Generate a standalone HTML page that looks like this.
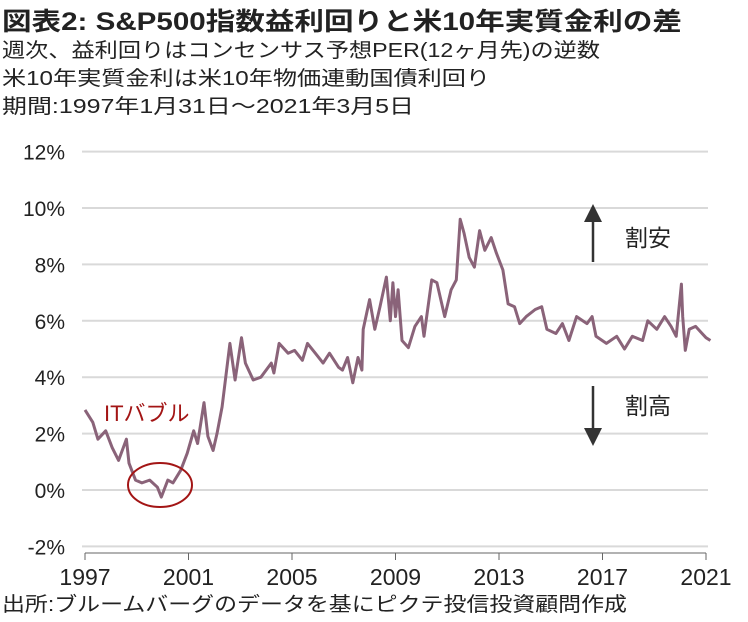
<!DOCTYPE html>
<html><head><meta charset="utf-8"><style>
body{margin:0;background:#fff;}
svg{display:block;}
text{font-family:"Liberation Sans","Noto Sans CJK JP",sans-serif;fill:#222;}
</style></head><body>
<svg id="chart" width="748" height="622" viewBox="0 0 748 622">
<text x="2" y="30" font-size="25" font-weight="bold" textLength="680" lengthAdjust="spacingAndGlyphs">図表2: S&amp;P500指数益利回りと米10年実質金利の差</text>
<text x="2" y="57" font-size="20" textLength="598" lengthAdjust="spacingAndGlyphs">週次、益利回りはコンセンサス予想PER(12ヶ月先)の逆数</text>
<text x="2" y="85" font-size="20" textLength="488" lengthAdjust="spacingAndGlyphs">米10年実質金利は米10年物価連動国債利回り</text>
<text x="2" y="113" font-size="20" textLength="412" lengthAdjust="spacingAndGlyphs">期間:1997年1月31日～2021年3月5日</text>
<g id="grid"></g><g id="yticks"></g><g id="xticks"></g>
<path id="series" fill="none" stroke="#8a6379" stroke-width="3" stroke-linejoin="round"/>
<ellipse cx="160" cy="485" rx="32" ry="22" fill="none" stroke="#a31515" stroke-width="2"/>
<text x="104" y="421" font-size="22" style="fill:#a31515">ITバブル</text>
<g><line x1="593" y1="262" x2="593" y2="218" stroke="#333" stroke-width="2.5"/><polygon points="584,222 602,222 593,204" fill="#333"/></g>
<text x="625" y="246" font-size="23">割安</text>
<g><line x1="593" y1="386" x2="593" y2="432" stroke="#333" stroke-width="2.5"/><polygon points="584,428 602,428 593,446" fill="#333"/></g>
<text x="625" y="414" font-size="23">割高</text>
<text x="2" y="611" font-size="20" textLength="625" lengthAdjust="spacingAndGlyphs">出所:ブルームバーグのデータを基にピクテ投信投資顧問作成</text>
</svg>
<script>
const yTicks=[-2,0,2,4,6,8,10,12];
const xTicks=[1997,2001,2005,2009,2013,2017,2021];
const dates=[1997.0,1997.3,1997.5,1997.8,1998.05,1998.3,1998.6,1998.7,1998.95,1999.2,1999.5,1999.8,1999.95,2000.2,2000.4,2000.7,2000.95,2001.2,2001.35,2001.6,2001.75,2001.95,2002.1,2002.3,2002.6,2002.8,2003.05,2003.2,2003.5,2003.8,2004.2,2004.3,2004.5,2004.85,2005.1,2005.4,2005.6,2005.9,2006.2,2006.45,2006.8,2006.95,2007.15,2007.35,2007.55,2007.7,2007.75,2008.0,2008.2,2008.4,2008.65,2008.8,2008.9,2009.0,2009.1,2009.25,2009.5,2009.75,2010.0,2010.1,2010.4,2010.6,2010.9,2011.15,2011.35,2011.5,2011.65,2011.85,2012.05,2012.25,2012.45,2012.7,2012.9,2013.15,2013.35,2013.6,2013.8,2014.05,2014.4,2014.65,2014.85,2015.2,2015.45,2015.7,2016.0,2016.4,2016.6,2016.75,2017.15,2017.55,2017.85,2018.15,2018.55,2018.75,2019.1,2019.4,2019.65,2019.85,2020.05,2020.1,2020.2,2020.35,2020.6,2020.85,2021.0,2021.17];
const values=[2.84,2.4,1.8,2.1,1.5,1.05,1.8,0.95,0.35,0.25,0.35,0.1,-0.25,0.35,0.25,0.7,1.3,2.1,1.65,3.1,1.9,1.4,2.0,2.95,5.2,3.9,5.4,4.5,3.9,4.0,4.5,4.15,5.2,4.85,4.95,4.6,5.2,4.85,4.5,4.85,4.35,4.25,4.7,3.8,4.7,4.25,5.7,6.75,5.7,6.5,7.55,6.0,7.35,6.15,7.1,5.3,5.05,5.8,6.15,5.45,7.45,7.35,6.15,7.1,7.45,9.6,9.1,8.25,7.9,9.2,8.5,8.95,8.4,7.8,6.6,6.5,5.9,6.15,6.4,6.5,5.7,5.55,5.9,5.3,6.15,5.9,6.15,5.45,5.2,5.45,5.0,5.45,5.3,6.0,5.7,6.15,5.8,5.45,7.3,6.15,4.95,5.7,5.8,5.55,5.4,5.3];
const X0=85,X1=706,Y0=490,PX=28.2;
function xs(t){return X0+(t-1997)*(X1-X0)/24;}
function ys(v){return Y0-v*PX;}
const NS="http://www.w3.org/2000/svg";
const grid=document.getElementById('grid'),yt=document.getElementById('yticks'),xt=document.getElementById('xticks');
yTicks.forEach(v=>{
 const l=document.createElementNS(NS,'line');
 l.setAttribute('x1',X0-3);l.setAttribute('x2',X1+2);l.setAttribute('y1',ys(v));l.setAttribute('y2',ys(v));
 l.setAttribute('stroke','#d9d9d9');l.setAttribute('stroke-width','2');
 
 
 grid.appendChild(l);
 const t=document.createElementNS(NS,'text');
 t.setAttribute('x',65);t.setAttribute('y',ys(v)+8);t.setAttribute('text-anchor','end');t.setAttribute('font-size','21');
 t.textContent=v+'%';
 
 
 yt.appendChild(t);
});
const ax=document.createElementNS(NS,'line');
ax.setAttribute('x1',X0);ax.setAttribute('x2',X1);ax.setAttribute('y1',553);ax.setAttribute('y2',553);ax.setAttribute('stroke','#666');ax.setAttribute('stroke-width','1');


xt.appendChild(ax);
xTicks.forEach(v=>{
 const tk=document.createElementNS(NS,'line');
 tk.setAttribute('x1',xs(v));tk.setAttribute('x2',xs(v));tk.setAttribute('y1',553);tk.setAttribute('y2',560);tk.setAttribute('stroke','#666');
 
 
 xt.appendChild(tk);
 const t=document.createElementNS(NS,'text');
 t.setAttribute('x',xs(v));t.setAttribute('y',585);t.setAttribute('text-anchor','middle');t.setAttribute('font-size','23');
 t.textContent=v;
 
 
 xt.appendChild(t);
});
document.getElementById('series').setAttribute('d',dates.map((d,i)=>(i?'L':'M')+xs(d).toFixed(1)+' '+ys(values[i]).toFixed(1)).join(' '));
</script>
</body></html>
